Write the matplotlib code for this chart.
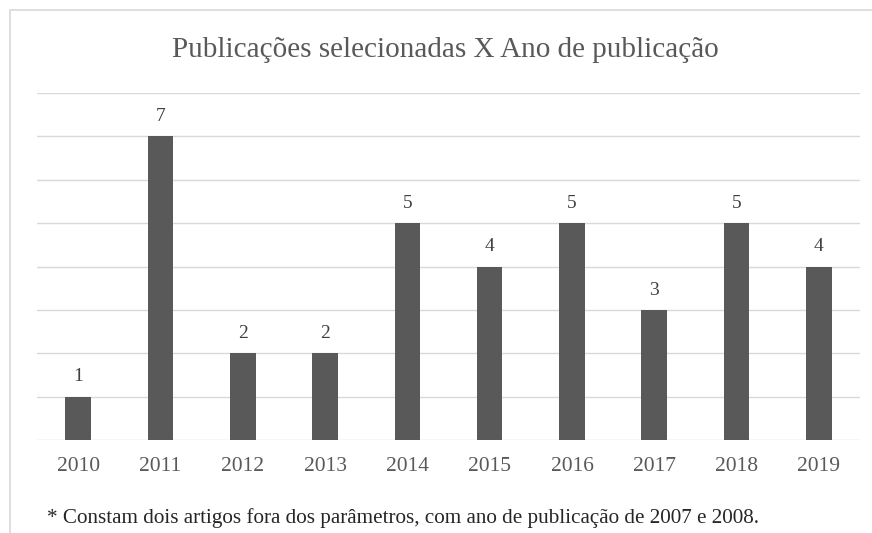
import matplotlib.pyplot as plt
from matplotlib.patches import Rectangle

anos = ['2010', '2011', '2012', '2013', '2014', '2015', '2016', '2017', '2018', '2019']
publicacoes = [1, 7, 2, 2, 5, 4, 5, 3, 5, 4]

plt.rcParams['font.family'] = 'Liberation Serif'

fig = plt.figure(figsize=(8.72, 5.33), dpi=100)
ax = fig.add_axes([37/872, 93/533, 823/872, 347/533])

# frame around the chart (runs off the right and bottom of the image)
fig.patches.append(Rectangle((10/872, -0.1), 1.0, 1 - 10/533 + 0.1,
                             transform=fig.transFigure, fill=False,
                             edgecolor='#d9d9d9', linewidth=1.2))

x = range(len(anos))
ax.bar(x, publicacoes, width=0.31, color='#595959', zorder=3)
for i, v in zip(x, publicacoes):
    ax.text(i, v + 0.26, str(v), ha='center', va='bottom', fontsize=14, color='#404040')

ax.set_xlim(-0.5, len(anos) - 0.5)
ax.set_ylim(0, 8)
ax.set_yticks(range(0, 9))
ax.yaxis.grid(True, color='#d9d9d9', linewidth=1)
ax.set_yticklabels([])
ax.tick_params(axis='y', length=0)
ax.set_xticks(list(x))
ax.set_xticklabels(anos, fontsize=15.5, color='#595959')
ax.tick_params(axis='x', length=0, pad=12)
for s in ax.spines.values():
    s.set_visible(False)

fig.text(445/872, 1 - 57/533, 'Publicações selecionadas X Ano de publicação',
         ha='center', va='baseline', fontsize=21, color='#595959')
fig.text(47/872, 1 - 523/533,
         '* Constam dois artigos fora dos parâmetros, com ano de publicação de 2007 e 2008.',
         ha='left', va='baseline', fontsize=15.2, color='#262626')

fig.savefig('out.png', dpi=100)
